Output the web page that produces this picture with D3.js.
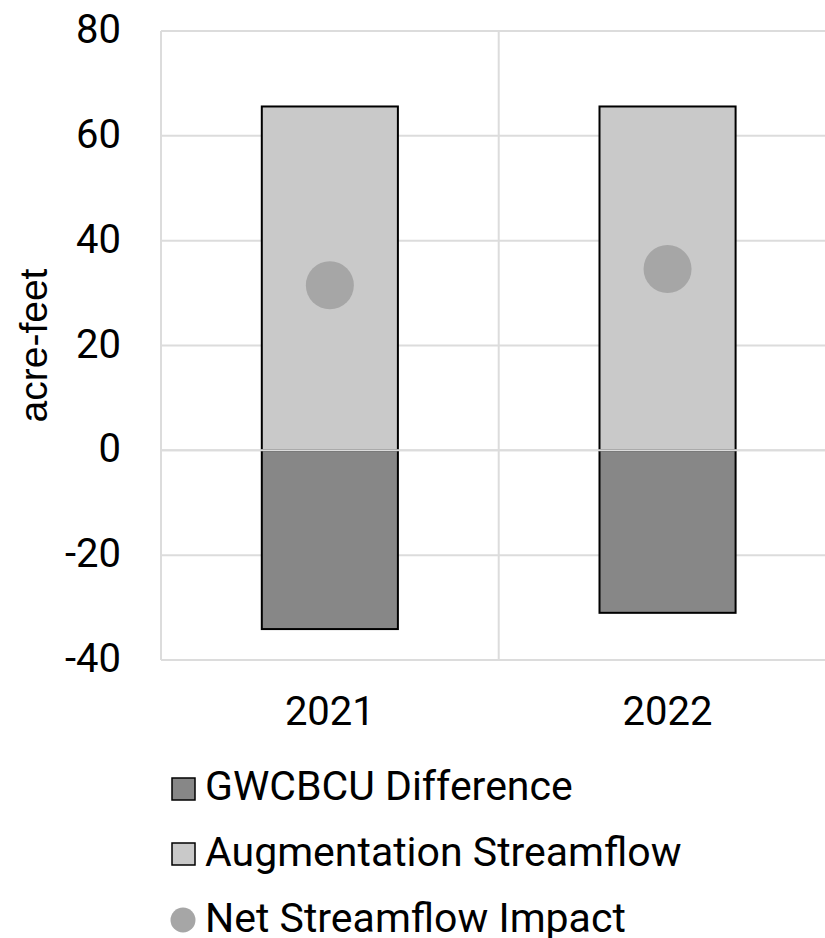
<!DOCTYPE html>
<html>
<head>
<meta charset="utf-8">
<script src="https://cdn.jsdelivr.net/npm/d3@7"></script>
<style>
  body { margin: 0; background: #fff; }
  svg text { font-family: Roboto, 'Noto Sans', sans-serif; fill: #000; }
</style>
</head>
<body>
<div id="chart"></div>
<script>
const years = ['2021', '2022']
const gwcbcuDiff = [-34.1, -31.0]
const augmentation = [65.6, 65.6]
const netImpact = [31.5, 34.6]
const yTicks = [-40, -20, 0, 20, 40, 60, 80]
const legendLabels = ['GWCBCU Difference', 'Augmentation Streamflow', 'Net Streamflow Impact']

const colors = { diff: '#878787', aug: '#c9c9c9', net: '#a6a6a6', grid: '#dcdcdc' }

const width = 825, height = 938
const margin = { top: 31, left: 161 }
const plotH = 629
const bandW = 337.7

const svg = d3.select('#chart').append('svg')
  .attr('width', width)
  .attr('height', height)

const x = d3.scaleBand()
  .domain(years)
  .range([margin.left, margin.left + bandW * years.length])
  .padding(0)

const y = d3.scaleLinear()
  .domain([-40, 80])
  .range([margin.top + plotH, margin.top])

// horizontal gridlines
svg.append('g')
  .selectAll('line')
  .data(yTicks)
  .join('line')
  .attr('x1', margin.left)
  .attr('x2', x.range()[1])
  .attr('y1', d => y(d))
  .attr('y2', d => y(d))
  .attr('stroke', colors.grid)
  .attr('stroke-width', 2)

// vertical category separators
const edges = years.map(d => x(d)).concat([x.range()[1]])
svg.append('g')
  .selectAll('line')
  .data(edges)
  .join('line')
  .attr('x1', d => d)
  .attr('x2', d => d)
  .attr('y1', y(80))
  .attr('y2', y(-40))
  .attr('stroke', colors.grid)
  .attr('stroke-width', 2)

// y tick labels
svg.append('g')
  .selectAll('text')
  .data(yTicks)
  .join('text')
  .attr('x', 121)
  .attr('y', d => y(d))
  .attr('dy', '0.3em')
  .attr('text-anchor', 'end')
  .style('font-size', '40px')
  .text(d => d)

// y axis title
svg.append('text')
  .attr('transform', `translate(47, ${y(20)}) rotate(-90)`)
  .attr('text-anchor', 'middle')
  .style('font-size', '39px')
  .style('font-family', "'Liberation Sans', Arial, sans-serif")
  .text('acre-feet')

const barW = x.bandwidth() * 0.403
const barX = d => x(d) + (x.bandwidth() - barW) / 2

// bars
const bars = svg.append('g')
years.forEach((yr, i) => {
  bars.append('rect')
    .attr('x', barX(yr))
    .attr('y', y(augmentation[i]))
    .attr('width', barW)
    .attr('height', y(0) - y(augmentation[i]))
    .attr('fill', colors.aug)
    .attr('stroke', '#000')
    .attr('stroke-width', 2)
  bars.append('rect')
    .attr('x', barX(yr))
    .attr('y', y(0))
    .attr('width', barW)
    .attr('height', y(gwcbcuDiff[i]) - y(0))
    .attr('fill', colors.diff)
    .attr('stroke', '#000')
    .attr('stroke-width', 2)
})

// zero line over bars
svg.append('line')
  .attr('x1', margin.left)
  .attr('x2', x.range()[1])
  .attr('y1', y(0))
  .attr('y2', y(0))
  .attr('stroke', colors.grid)
  .attr('stroke-width', 2)

// net streamflow dots
svg.append('g')
  .selectAll('circle')
  .data(years)
  .join('circle')
  .attr('cx', d => x(d) + x.bandwidth() / 2)
  .attr('cy', (d, i) => y(netImpact[i]))
  .attr('r', 24)
  .attr('fill', colors.net)

// x labels
svg.append('g')
  .selectAll('text')
  .data(years)
  .join('text')
  .attr('x', d => x(d) + x.bandwidth() / 2)
  .attr('y', 725)
  .attr('text-anchor', 'middle')
  .style('font-size', '40px')
  .text(d => d)

// legend
const legend = svg.append('g')
const rowY = [800, 866, 932]
legend.append('rect')
  .attr('x', 172).attr('y', rowY[0] - 22).attr('width', 23).attr('height', 22)
  .attr('fill', colors.diff).attr('stroke', '#000').attr('stroke-width', 1.5)
legend.append('rect')
  .attr('x', 172).attr('y', rowY[1] - 23).attr('width', 23).attr('height', 22)
  .attr('fill', colors.aug).attr('stroke', '#000').attr('stroke-width', 1.5)
legend.append('circle')
  .attr('cx', 183).attr('cy', rowY[2] - 12).attr('r', 12.5)
  .attr('fill', colors.net)

legend.selectAll('text')
  .data(legendLabels)
  .join('text')
  .attr('x', 205)
  .attr('y', (d, i) => rowY[i])
  .style('font-size', '41px')
  .text(d => d)
</script>
</body>
</html>
